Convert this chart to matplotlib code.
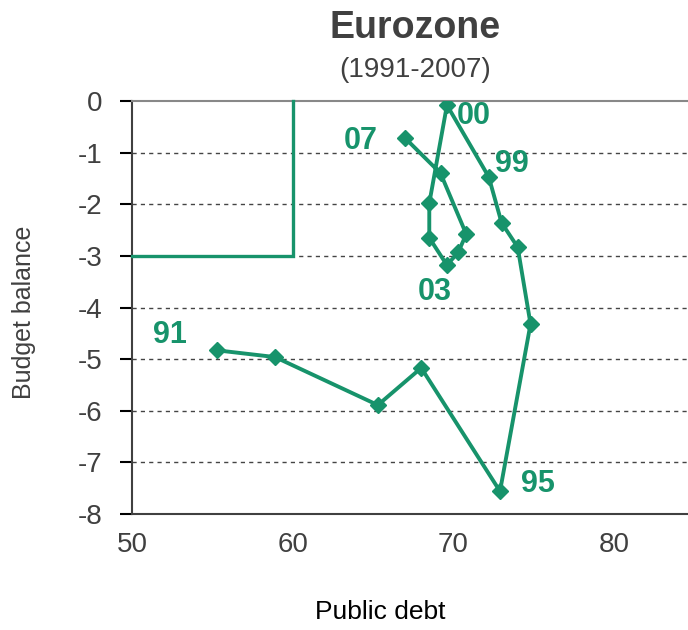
import matplotlib
matplotlib.use("Agg")
import matplotlib.pyplot as plt
from matplotlib import font_manager

# public debt (% GDP) vs budget balance (% GDP), 1991-2007
years = ["91", "92", "93", "94", "95", "96", "97", "98", "99",
         "00", "01", "02", "03", "04", "05", "06", "07"]
debt = [55.3, 58.9, 65.3, 68.0, 72.9, 74.8, 74.0, 73.0, 72.2,
        69.6, 68.5, 68.5, 69.6, 70.3, 70.8, 69.2, 67.0]
balance = [-4.83, -4.96, -5.89, -5.17, -7.56, -4.32, -2.83, -2.36, -1.47,
           -0.08, -1.98, -2.65, -3.18, -2.93, -2.58, -1.40, -0.72]
labelled = {"91": (-34, 11), "95": (27, 5), "99": (17, 9),
            "00": (19, -8), "03": (-9, -19), "07": (-32, -2)}

# Maastricht limits: 60% debt, -3% balance
box_x = [50, 60, 60]
box_y = [-3, -3, 0]

x_ticks = [50, 60, 70, 80]
y_ticks = [0, -1, -2, -3, -4, -5, -6, -7, -8]

names = {f.name for f in font_manager.fontManager.ttflist}
narrow = "Liberation Sans Narrow" if "Liberation Sans Narrow" in names else "Liberation Sans"
plt.rcParams["font.family"] = [narrow, "DejaVu Sans"]

green = "#17936b"
grey = "#404040"

fig = plt.figure(figsize=(6.88, 6.30), dpi=100)
ax = fig.add_axes([132 / 688, 1 - 514 / 630, 1 - 132 / 688, (514 - 101) / 630])

ax.plot(box_x, box_y, color=green, lw=2.4, solid_joinstyle="miter", clip_on=False, zorder=3)
ax.plot(debt, balance, color=green, lw=2.8, marker="D", ms=8, zorder=4)

for yr, off in labelled.items():
    i = years.index(yr)
    ax.annotate(yr, (debt[i], balance[i]), xytext=off, textcoords="offset points",
                ha="center", va="center", fontsize=22, fontweight="bold", color=green)

ax.set_xlim(50, 84.6)
ax.set_ylim(-8, 0)
ax.set_xticks(x_ticks)
ax.set_yticks(y_ticks)
ax.set_xticklabels([str(v) for v in x_ticks])
ax.set_yticklabels([str(v) for v in y_ticks])
ax.tick_params(axis="y", direction="out", length=9, width=1.5, color="black",
               labelsize=20, labelcolor=grey, pad=12)
ax.tick_params(axis="x", length=0, labelsize=20, labelcolor=grey, pad=13)

for y in y_ticks[1:-1]:
    ax.axhline(y, color="#444444", lw=1, ls=(0, (3, 3)), zorder=1)

ax.spines["left"].set_color(grey)
ax.spines["left"].set_linewidth(1.5)
ax.spines["bottom"].set_color(grey)
ax.spines["bottom"].set_linewidth(1.5)
ax.spines["top"].set_color("#888888")
ax.spines["top"].set_linewidth(1.5)
ax.spines["right"].set_visible(False)

fig.text(415 / 688, 1 - 28 / 630, "Eurozone", ha="center", va="center",
         fontsize=27, fontweight="bold", color=grey)
fig.text(415 / 688, 1 - 70 / 630, "(1991-2007)", ha="center", va="center",
         fontsize=20, color=grey)
fig.text(380 / 688, 1 - 612 / 630, "Public debt", ha="center", va="center",
         fontsize=19, color="black")
fig.text(24 / 688, 1 - 312 / 630, "Budget balance", ha="center", va="center",
         rotation=90, fontsize=18, color=grey)

fig.savefig("out.png", dpi=100)
